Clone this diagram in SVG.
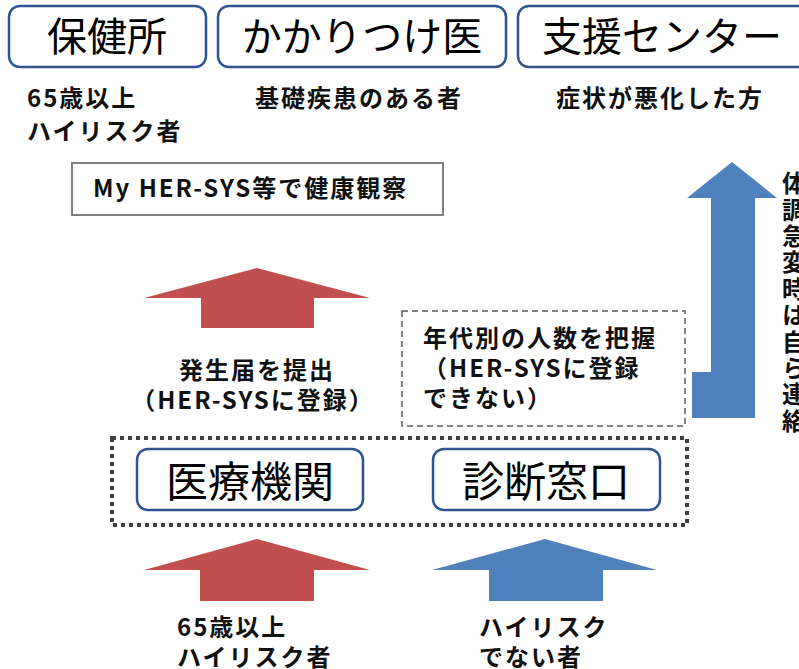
<svg xmlns="http://www.w3.org/2000/svg" width="799" height="669" viewBox="0 0 799 669">
<style>
.hdr{fill:#fff;stroke:#2F5590;stroke-width:2.5}
.ht{font-family:"Noto Sans CJK JP","Noto Sans",sans-serif;font-size:40px;fill:#000;text-anchor:middle}
.bt{font-family:"Noto Sans CJK JP","Noto Sans",sans-serif;font-size:42px;fill:#000;text-anchor:middle}
.lb{font-family:"Noto Sans CJK JP","Noto Sans",sans-serif;font-size:24px;font-weight:bold;fill:#111;letter-spacing:2px}
.vt{font-family:"Noto Sans CJK JP","Noto Sans",sans-serif;font-size:24px;font-weight:bold;fill:#111;writing-mode:vertical-rl;letter-spacing:2.4px}
.red{fill:#C0504D}
.blue{fill:#4F81BD}
</style>
<rect width="799" height="669" fill="#fff"/>

<g id="hokenjo">
<rect class="hdr" x="9" y="6" width="197" height="61" rx="11"/>
<text class="ht" x="107" y="51">保健所</text>
</g>
<g id="kakaritsuke">
<rect class="hdr" x="218" y="6" width="288" height="61" rx="11"/>
<text class="ht" x="362" y="51">かかりつけ医</text>
</g>
<g id="shien">
<rect class="hdr" x="518" y="6" width="300" height="61" rx="11"/>
<text class="ht" x="662" y="51">支援センター</text>
</g>

<g id="label-hokenjo">
<text class="lb" x="27" y="107">65歳以上</text>
<text class="lb" x="27" y="140">ハイリスク者</text>
</g>
<g id="label-kakaritsuke">
<text class="lb" x="255" y="107">基礎疾患のある者</text>
</g>
<g id="label-shien">
<text class="lb" x="556" y="107">症状が悪化した方</text>
</g>

<g id="myhersys">
<rect x="72" y="163" width="371" height="52" fill="#fff" stroke="#808080" stroke-width="2"/>
<text class="lb" x="93" y="197" font-size="25" letter-spacing="1.6">My HER-SYS等で健康観察</text>
</g>

<g id="hassei-label">
<text class="lb" x="257" y="379" text-anchor="middle">発生届を提出</text>
<text class="lb" x="253" y="409" text-anchor="middle" letter-spacing="1">（HER-SYSに登録）</text>
</g>

<g id="nendai">
<rect x="402" y="311" width="283" height="115" fill="none" stroke="#595959" stroke-width="1.5" stroke-dasharray="6 4"/>
<text class="lb" x="423" y="347">年代別の人数を把握</text>
<text class="lb" x="423" y="377" letter-spacing="1.6">（HER-SYSに登録</text>
<text class="lb" x="423" y="407">できない）</text>
</g>

<g id="group-box">
<rect x="112" y="438" width="575" height="87" fill="none" stroke="#404040" stroke-width="4" stroke-dasharray="4 4"/>
</g>
<g id="iryokikan">
<rect class="hdr" x="137" y="449" width="226" height="61" rx="11"/>
<text class="bt" x="250" y="497">医療機関</text>
</g>
<g id="shindan">
<rect class="hdr" x="433" y="449" width="227" height="61" rx="11"/>
<text class="bt" x="546" y="497">診断窓口</text>
</g>

<g id="label-bottom-left">
<text class="lb" x="177" y="636">65歳以上</text>
<text class="lb" x="177" y="666">ハイリスク者</text>
</g>
<g id="label-bottom-right">
<text class="lb" x="479" y="636">ハイリスク</text>
<text class="lb" x="479" y="666">でない者</text>
</g>

<g id="label-right">
<text class="vt" x="794" y="171">体調急変時は自ら連絡</text>
</g>

<g id="connectors">
<polygon class="red" points="257,268 370,298 314,298 314,328 201,328 201,298 144,298"/>
<polygon class="red" points="257,539 370,570 314,570 314,601 200,601 200,570 144,570"/>
<polygon class="blue" points="545,539 657,570 603,570 603,601 489,601 489,570 432,570"/>
<polygon class="blue" points="732,162 777,198 755,198 755,418 692,418 692,372 711,372 711,198 687,198"/>
</g>
</svg>
